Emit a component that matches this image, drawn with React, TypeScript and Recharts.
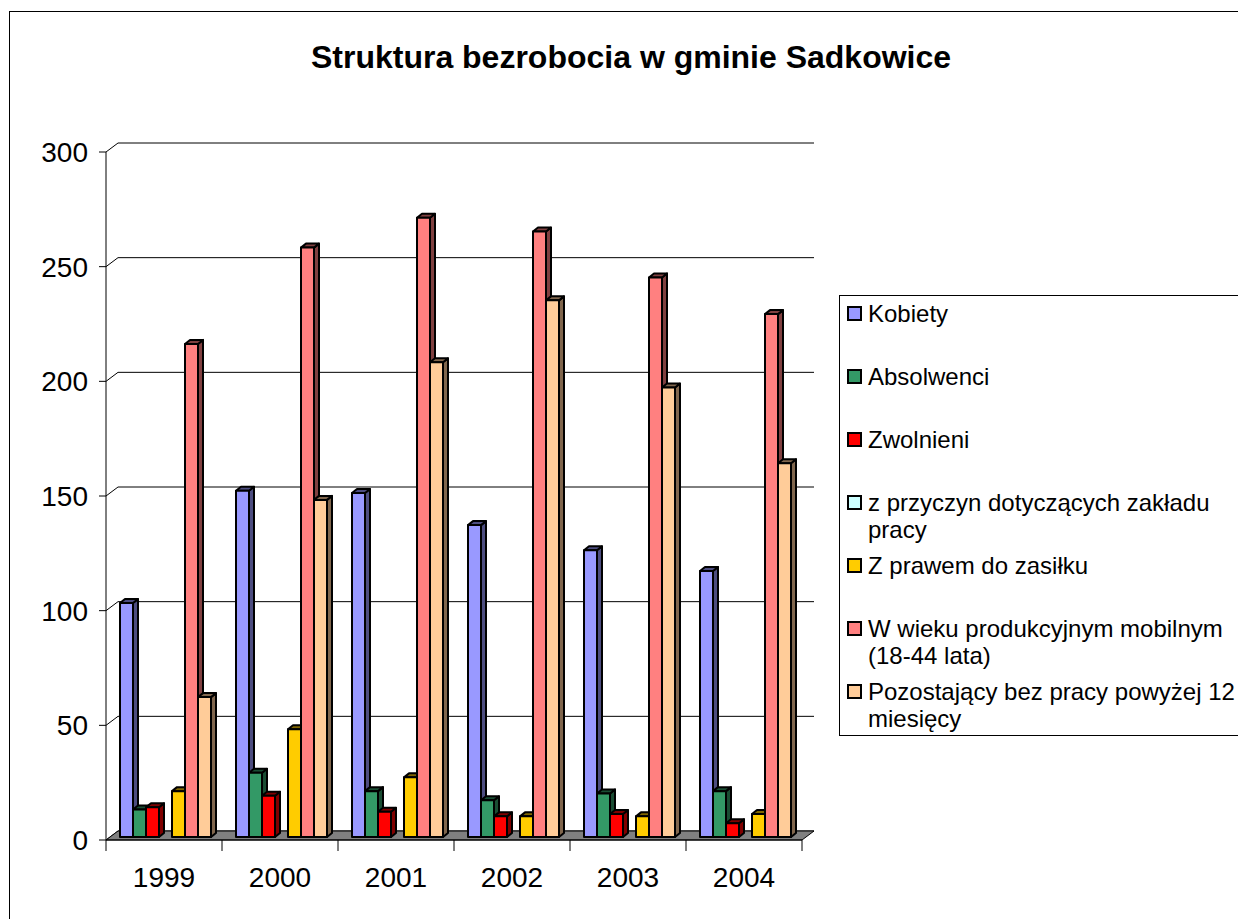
import { BarChart, Bar, XAxis, YAxis, CartesianGrid, ReferenceArea } from "recharts";

const years = ["1999", "2000", "2001", "2002", "2003", "2004"];
const kobiety = [102, 151, 150, 136, 125, 116];
const absolwenci = [12, 28, 20, 16, 19, 20];
const zwolnieni = [13, 18, 11, 9, 10, 6];
const zPrzyczyn = [0, 0, 0, 0, 0, 0];
const zPrawem = [20, 47, 26, 9, 9, 10];
const wWieku = [215, 257, 270, 264, 244, 228];
const pozostajacy = [61, 147, 207, 234, 196, 163];
const yTicks = [0, 50, 100, 150, 200, 250, 300];

const series = [
  { key: "kobiety", name: "Kobiety", values: kobiety, color: "#9999FF", side: "#4D4D80" },
  { key: "absolwenci", name: "Absolwenci", values: absolwenci, color: "#339966", side: "#1A4D33" },
  { key: "zwolnieni", name: "Zwolnieni", values: zwolnieni, color: "#FF0000", side: "#800000" },
  { key: "zPrzyczyn", name: "z przyczyn dotyczących zakładu pracy", values: zPrzyczyn, color: "#CCFFFF", side: "#668080" },
  { key: "zPrawem", name: "Z prawem do zasiłku", values: zPrawem, color: "#FFCC00", side: "#806600" },
  { key: "wWieku", name: "W wieku produkcyjnym mobilnym (18-44 lata)", values: wWieku, color: "#FF8080", side: "#804040" },
  { key: "pozostajacy", name: "Pozostający bez pracy powyżej 12 miesięcy", values: pozostajacy, color: "#FFCC99", side: "#80664D" },
];

const data = years.map((year, i) => {
  const row: { [k: string]: string | number } = { year };
  series.forEach((s) => (row[s.key] = s.values[i]));
  return row;
});

const FONT = "'Liberation Sans', Arial, sans-serif";
const W = 1238;
const H = 919;
const PLOT_LEFT = 106;
const PLOT_RIGHT = 802;
const PLOT_TOP = 152;
const PLOT_BOTTOM = 840;
const BAND = (PLOT_RIGHT - PLOT_LEFT) / years.length;
const WALL_DX = 12;
const WALL_DY = 9;

function Bar3D(props: any) {
  const { x, y, width, height, fill, side } = props;
  if (!height || height <= 0) return <g />;
  const fx = x + 3;
  const fy = y - 3;
  const d = 5;
  const dy = 4;
  return (
    <g stroke="#000" strokeWidth={2} strokeLinejoin="round">
      <polygon
        points={`${fx + width},${fy} ${fx + width + d},${fy - dy} ${fx + width + d},${fy + height - dy} ${fx + width},${fy + height}`}
        fill={side}
      />
      <polygon
        points={`${fx},${fy} ${fx + d},${fy - dy} ${fx + width + d},${fy - dy} ${fx + width},${fy}`}
        fill={side}
      />
      <rect x={fx} y={fy} width={width} height={height} fill={fill} />
    </g>
  );
}

function Floor(props: any) {
  const { x, y, width, height } = props;
  const fy = y + height;
  return (
    <polygon
      points={`${x},${fy} ${x + width},${fy} ${x + width + WALL_DX},${fy - WALL_DY} ${x + WALL_DX},${fy - WALL_DY}`}
      fill="#808080"
      stroke="#000"
      strokeWidth={1}
    />
  );
}

function GridLine(props: any) {
  const { x1, y1, x2, y2 } = props;
  return (
    <g stroke="#000" strokeWidth={1}>
      <line x1={x1} y1={y1} x2={x1 + WALL_DX} y2={y1 - WALL_DY} />
      <line x1={x1 + WALL_DX} y1={y1 - WALL_DY} x2={x2 + WALL_DX} y2={y2 - WALL_DY} />
    </g>
  );
}

function YearTick(props: any) {
  const { x, payload, index } = props;
  const last = index === years.length - 1;
  return (
    <g>
      <line x1={x - BAND / 2} y1={PLOT_BOTTOM} x2={x - BAND / 2} y2={PLOT_BOTTOM + 11} stroke="#000" />
      {last && (
        <line x1={x + BAND / 2} y1={PLOT_BOTTOM} x2={x + BAND / 2} y2={PLOT_BOTTOM + 11} stroke="#000" />
      )}
      <text x={x} y={PLOT_BOTTOM + 47} textAnchor="middle" fontSize={28} fontFamily={FONT} fill="#000">
        {payload.value}
      </text>
    </g>
  );
}

function LegendBox() {
  return (
    <div
      style={{
        position: "absolute",
        left: 839,
        top: 295,
        width: 420,
        height: 439,
        border: "1px solid #000",
        background: "#fff",
        fontFamily: FONT,
        fontSize: 24,
        color: "#000",
      }}
    >
      {series.map((s) => (
        <div key={s.key} style={{ height: 63, position: "relative" }}>
          <div
            style={{
              position: "absolute",
              left: 7,
              top: 10,
              width: 11,
              height: 11,
              background: s.color,
              border: "2px solid #000",
            }}
          />
          <div
            style={{
              position: "absolute",
              left: 28,
              top: 4,
              width: 372,
              lineHeight: "27px",
            }}
          >
            {s.name}
          </div>
        </div>
      ))}
    </div>
  );
}

export default function App() {
  return (
    <div
      style={{
        position: "absolute",
        left: 0,
        top: 0,
        width: W,
        height: H,
        overflow: "hidden",
        background: "#fff",
      }}
    >
      <div
        style={{
          position: "absolute",
          left: 9,
          top: 11,
          width: W,
          height: H,
          border: "1px solid #000",
        }}
      />
      <div
        style={{
          position: "absolute",
          left: 0,
          top: 41,
          width: 1262,
          textAlign: "center",
          fontFamily: FONT,
          fontWeight: "bold",
          fontSize: 32,
          lineHeight: "32px",
          color: "#000",
        }}
      >
        Struktura bezrobocia w gminie Sadkowice
      </div>
      <div style={{ position: "absolute", left: 0, top: 0 }}>
        <BarChart
          width={W}
          height={H}
          data={data}
          margin={{ top: PLOT_TOP, right: W - PLOT_RIGHT, bottom: H - PLOT_BOTTOM - 40, left: 0 }}
          barCategoryGap={11}
          barGap={0}
        >
          <CartesianGrid vertical={false} horizontal={(p: any) => <GridLine key={p.key} {...p} />} />
          <ReferenceArea y1={0} y2={1} shape={(p: any) => <Floor {...p} />} ifOverflow="visible" />
          <XAxis
            dataKey="year"
            height={40}
            axisLine={{ stroke: "#000", strokeWidth: 1 }}
            tickLine={false}
            tick={(p: any) => <YearTick {...p} />}
            interval={0}
          />
          <YAxis
            width={PLOT_LEFT}
            domain={[0, 300]}
            ticks={yTicks}
            axisLine={{ stroke: "#000", strokeWidth: 1 }}
            tickLine={{ stroke: "#000" }}
            tickSize={7}
            tickMargin={11}
            tick={{ fill: "#000", fontSize: 28, fontFamily: FONT }}
          />
          {series.map((s) => (
            <Bar
              key={s.key}
              dataKey={s.key}
              name={s.name}
              fill={s.color}
              isAnimationActive={false}
              shape={(p: any) => <Bar3D {...p} side={s.side} />}
            />
          ))}
        </BarChart>
      </div>
      <LegendBox />
    </div>
  );
}
